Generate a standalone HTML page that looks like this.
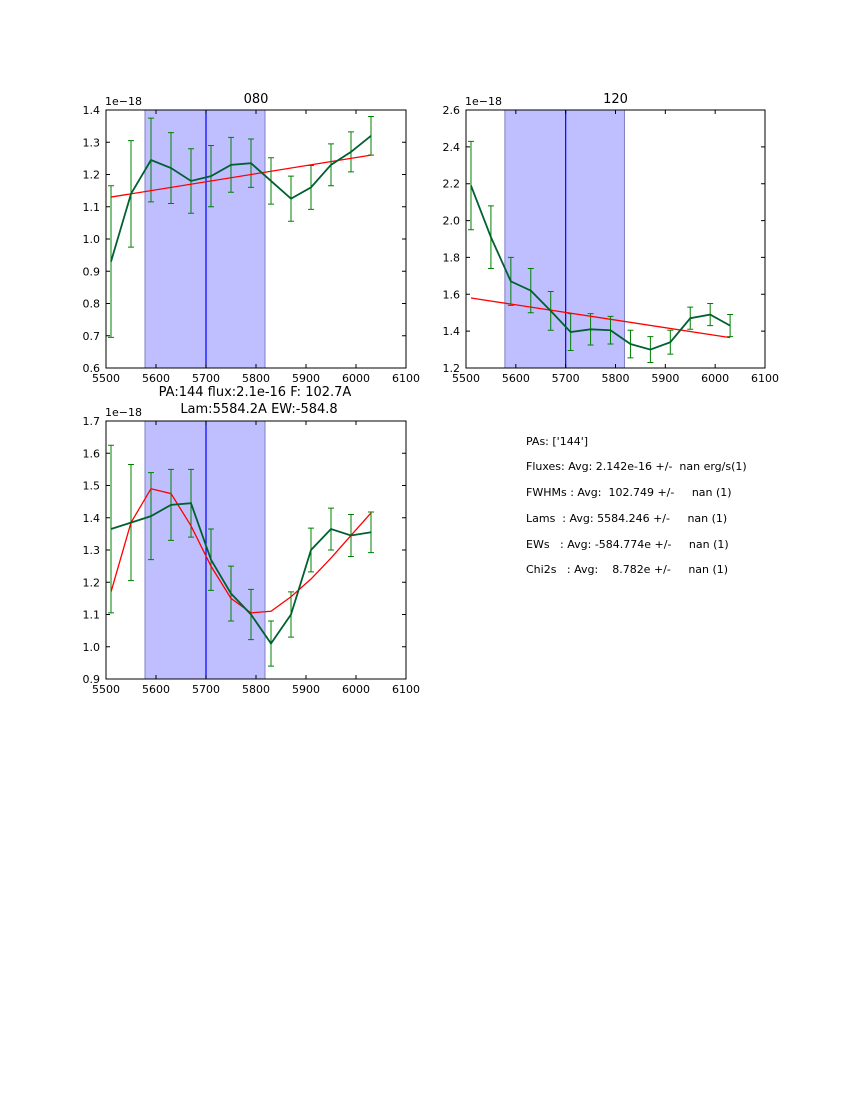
<!DOCTYPE html>
<html><head><meta charset="utf-8"><style>
body{margin:0;background:#fff;width:850px;height:1100px;overflow:hidden}
svg{font-family:"DejaVu Sans","Liberation Sans",sans-serif}
</style></head><body>
<svg id="fig" width="850" height="1100">
<text x="255" y="396" font-size="13" text-anchor="middle">PA:144 flux:2.1e-16 F: 102.7A</text>
<text x="259" y="413" font-size="13" text-anchor="middle">Lam:5584.2A EW:-584.8</text>
<g font-size="11">
<text x="526" y="445" xml:space="preserve">PAs: ['144']</text>
<text x="526" y="470" xml:space="preserve">Fluxes: Avg: 2.142e-16 +/-  nan erg/s(1)</text>
<text x="526" y="496" xml:space="preserve">FWHMs : Avg:  102.749 +/-     nan (1)</text>
<text x="526" y="522" xml:space="preserve">Lams  : Avg: 5584.246 +/-     nan (1)</text>
<text x="526" y="548" xml:space="preserve">EWs   : Avg: -584.774e +/-     nan (1)</text>
<text x="526" y="573" xml:space="preserve">Chi2s   : Avg:    8.782e +/-     nan (1)</text>
</g>
</svg>
<script>
const wav=[5510,5550,5590,5630,5670,5710,5750,5790,5830,5870,5910,5950,5990,6030];
const xTicks=[5500,5600,5700,5800,5900,6000,6100];
const p1Vals=[0.93,1.14,1.245,1.22,1.18,1.195,1.23,1.235,1.18,1.125,1.16,1.23,1.27,1.32];
const p1Err=[0.235,0.165,0.13,0.11,0.10,0.095,0.085,0.075,0.072,0.07,0.068,0.065,0.062,0.06];
const p1FitX=[5510,6030];
const p1Fit=[1.13,1.26];
const p1Ticks=[0.6,0.7,0.8,0.9,1.0,1.1,1.2,1.3,1.4];
const p2Vals=[2.19,1.91,1.67,1.62,1.51,1.395,1.41,1.405,1.33,1.30,1.34,1.47,1.49,1.43];
const p2Err=[0.24,0.17,0.13,0.12,0.105,0.10,0.085,0.075,0.075,0.07,0.065,0.06,0.06,0.06];
const p2FitX=[5510,6030];
const p2Fit=[1.58,1.365];
const p2Ticks=[1.2,1.4,1.6,1.8,2.0,2.2,2.4,2.6];
const p3Vals=[1.365,1.385,1.405,1.44,1.445,1.27,1.165,1.10,1.01,1.10,1.30,1.365,1.345,1.355];
const p3Err=[0.26,0.18,0.135,0.11,0.105,0.095,0.085,0.078,0.07,0.07,0.068,0.065,0.065,0.063];
const p3FitX=wav;
const p3Fit=[1.17,1.385,1.49,1.475,1.375,1.25,1.15,1.105,1.11,1.155,1.21,1.275,1.345,1.415];
const p3Ticks=[0.9,1.0,1.1,1.2,1.3,1.4,1.5,1.6,1.7];
const shade=[5578,5818], cline=5700;

const NS="http://www.w3.org/2000/svg", fig=document.getElementById('fig');
function mk(t,a,p){const e=document.createElementNS(NS,t);for(const k in a)e.setAttribute(k,a[k]);(p||fig).appendChild(e);return e;}
function panel(name,L,T,W,H,ticks,vals,err,fx,fy,title){
  const g=mk('g',{});
  
  
  const y0=ticks[0],y1=ticks[ticks.length-1];
  const X=v=>L+(v-5500)/600*W, Y=v=>T+H-(v-y0)/(y1-y0)*H;
  const sh=mk('rect',{x:X(shade[0]),y:T,width:X(shade[1])-X(shade[0]),height:H,fill:'#bfbfff',stroke:'#8080c0','stroke-width':1},g);
  
  
  const vl=mk('line',{x1:X(cline),x2:X(cline),y1:T,y2:T+H,stroke:'#0000ff','stroke-width':1.2},g);
  
  
  wav.forEach((w,i)=>{
    const x=X(w),a=Y(vals[i]+err[i]),b=Y(vals[i]-err[i]);
    const eb=mk('path',{d:`M${x},${a}V${b}M${x-3},${a}H${x+3}M${x-3},${b}H${x+3}`,stroke:'#008000','stroke-width':1,fill:'none'},g);
    
    
  });
  const fl=mk('polyline',{points:fx.map((w,i)=>X(w)+','+Y(fy[i])).join(' '),stroke:'#ff0000','stroke-width':1.3,fill:'none'},g);
  
  
  const dl=mk('polyline',{points:wav.map((w,i)=>X(w)+','+Y(vals[i])).join(' '),stroke:'#006030','stroke-width':1.8,fill:'none'},g);
  
  
  const fr=mk('rect',{x:L,y:T,width:W,height:H,fill:'none',stroke:'#000','stroke-width':1},g);
  
  
  xTicks.forEach(t=>{
    const x=X(t);
    mk('path',{d:`M${x},${T+H}v-4M${x},${T}v4`,stroke:'#000'},g);
    const tx=mk('text',{x:x,y:T+H+14,'font-size':11,'text-anchor':'middle'},g);
    tx.textContent=t;
    
    
  });
  ticks.forEach(t=>{
    const y=Y(t);
    mk('path',{d:`M${L},${y}h4M${L+W},${y}h-4`,stroke:'#000'},g);
    const tx=mk('text',{x:L-6,y:y+4,'font-size':11,'text-anchor':'end'},g);
    tx.textContent=t.toFixed(1);
    
    
  });
  const ex=mk('text',{x:L-1,y:T-5,'font-size':11},g);
  ex.textContent='1e\u221218';
  
  
  if(title){
    const tt=mk('text',{x:L+W/2,y:T-7,'font-size':13,'text-anchor':'middle'},g);
    tt.textContent=title;
    
    
  }
}
panel('panel-080',106,110,300,258,p1Ticks,p1Vals,p1Err,p1FitX,p1Fit,'080');
panel('panel-120',466,110,299,258,p2Ticks,p2Vals,p2Err,p2FitX,p2Fit,'120');
panel('panel-fit',106,421,300,258,p3Ticks,p3Vals,p3Err,p3FitX,p3Fit,'');
</script>
</body></html>
